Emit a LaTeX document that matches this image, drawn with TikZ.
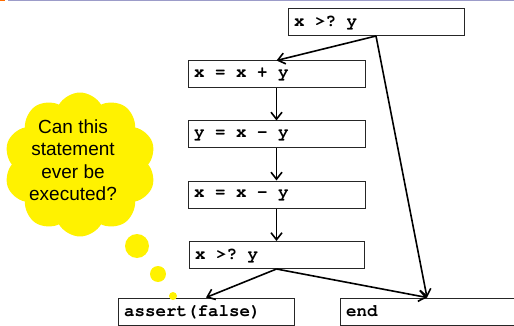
\documentclass[tikz,border=0pt]{standalone}
\usepackage[T1,TU]{fontenc}
\usepackage{fontspec}
\setmainfont{Liberation Sans}
\newcommand\courb{\fontencoding{T1}\fontfamily{pcr}\fontseries{b}\selectfont}
\usetikzlibrary{arrows.meta,shapes.symbols}
\begin{document}
\begin{tikzpicture}[x=1pt,y=-1pt,
  codebox/.style={draw=black!85,line width=1pt,minimum height=27pt,inner xsep=6pt,inner ysep=0pt,
    font=\fontsize{17.5}{18}\courb,anchor=center,
    execute at begin node={\spaceskip=0.6em\xspaceskip=0.6em\relax}},
  flow/.style={line width=1.6pt,-{Straight Barb[length=7pt,width=11pt,line width=1.6pt]}},
  bubble/.style={fill=yellow,draw=none}]
\useasboundingbox (0,0) rectangle (514,326);
% header rule
\fill[orange!85!red] (0,0) rectangle (5,1.5);
\fill[blue!30!gray!60] (8,0) rectangle (514,1.5);
% boxes
\node[codebox,text width=164pt,align=left] (top) at (376,22) {x >? y};
\node[codebox,text width=165pt,align=left] (b1) at (276.5,74.5) {x = x + y};
\node[codebox,text width=165pt,align=left] (b2) at (276.5,134.5) {y = x - y};
\node[codebox,text width=165pt,align=left] (b3) at (276.5,194.5) {x = x - y};
\node[codebox,text width=163pt,align=left] (b4) at (276.5,255) {x >? y};
\node[codebox,text width=164pt,align=left] (as) at (206,311.5) {assert(false)};
\node[codebox,text width=162pt,align=left] (en) at (427,311.5) {end};
% arrows
\draw[flow] (top.south) -- (b1.north);
\draw[flow] (top.south) -- (en.north);
\draw[flow] (b1.south) -- (b2.north);
\draw[flow] (b2.south) -- (b3.north);
\draw[flow] (b3.south) -- (b4.north);
\draw[flow] (b4.south) -- (as.north);
\draw[flow] (b4.south) -- (en.north);
% thought cloud
\node[cloud,cloud puffs=10,cloud puff arc=120,aspect=1.05,bubble,minimum width=152pt,minimum height=144pt] (cl) at (80,164.5) {};
\node[align=center,font=\fontsize{19}{22.5}\selectfont] (txt) at (73,160) {Can this\\statement\\ever be\\executed?};
\node[circle,bubble,minimum size=24pt,inner sep=0pt] (c1) at (137,246) {};
\node[circle,bubble,minimum size=16pt,inner sep=0pt] (c2) at (158,274) {};
\node[circle,bubble,minimum size=8pt,inner sep=0pt] (c3) at (173,296) {};
\end{tikzpicture}
\end{document}
